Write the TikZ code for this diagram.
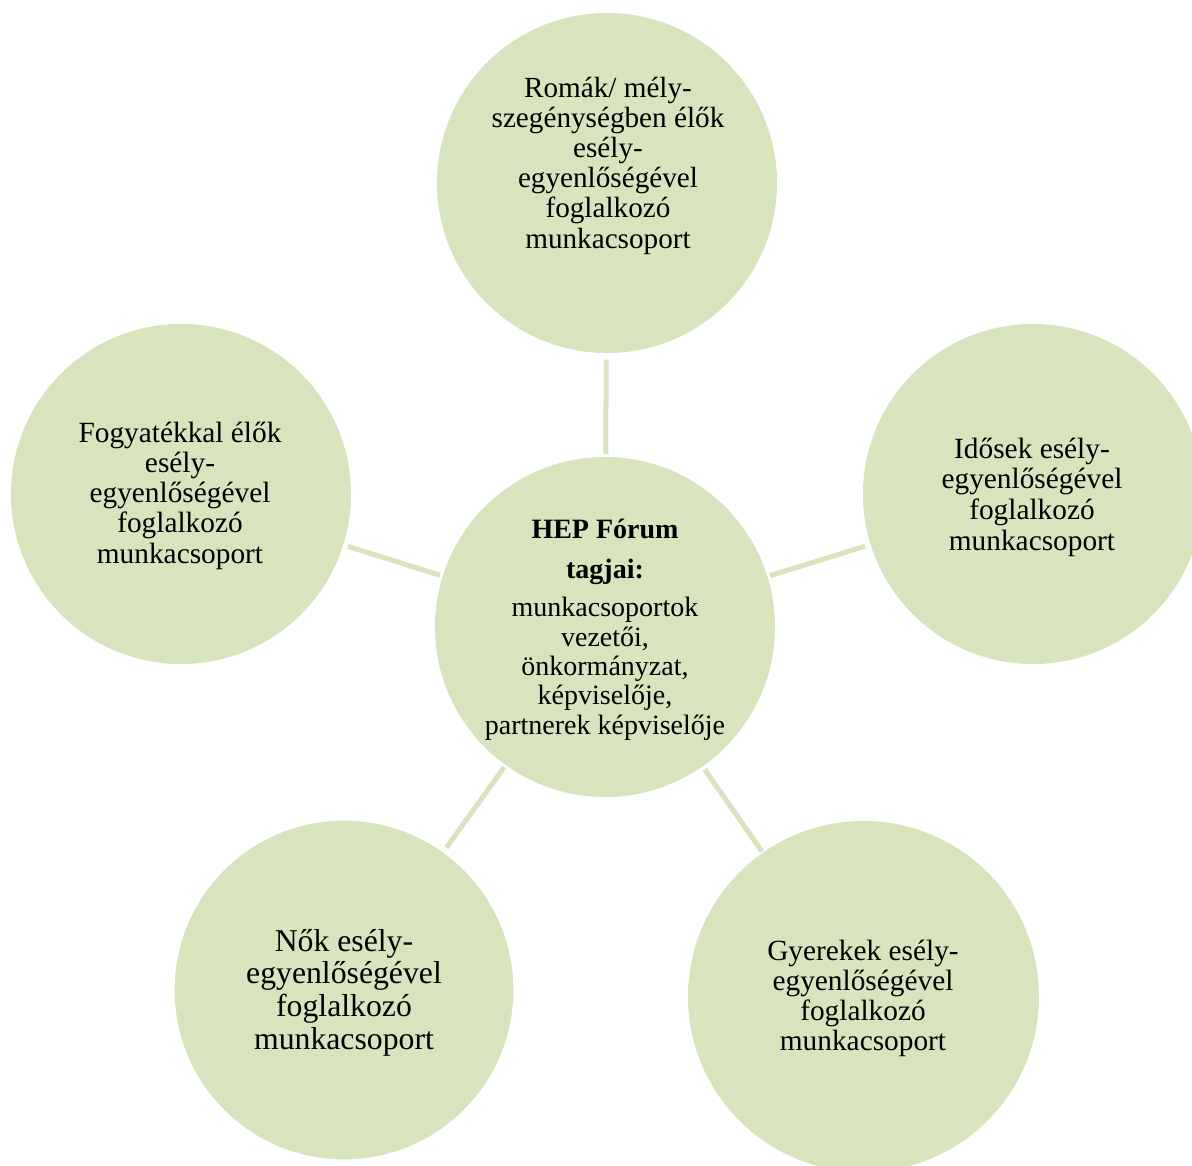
\documentclass[tikz,border=0pt]{standalone}
\usepackage{fontspec}
\setmainfont{Liberation Serif}
\definecolor{bubgreen}{HTML}{D7E4BD}
\newcommand{\bubtxt}[3]{\parbox[t]{260pt}{\fontsize{#1}{#2}\selectfont\centering #3}}
\tikzset{
  bub/.style={circle, fill=bubgreen, draw=none, inner sep=0pt, outer sep=0pt, minimum size=#1},
  link/.style={draw=bubgreen, line width=3.75pt},
  lab/.style={anchor=base, inner sep=0pt, outer sep=0pt, text=black}
}
\begin{document}
\begin{tikzpicture}[x=0.75pt, y=-0.75pt]
\useasboundingbox (0,0) rectangle (1192,1165);
\clip (0,0) rectangle (1192,1165);
\fill[white] (0,0) rectangle (1192,1165);
% circles
\node[bub=255pt] (c)  at (605,627) {};
\node[bub=255pt] (t)  at (607,183) {};
\node[bub=255pt] (l)  at (181,494) {};
\node[bub=255pt] (r)  at (1033,494) {};
\node[bub=254pt] (bl) at (344,990) {};
\node[bub=263.25pt] (br) at (863.5,996.5) {};
% connectors
\draw[link, shorten <=2.25pt, shorten >=5pt]   (c) -- (t);
\draw[link, shorten <=2.25pt, shorten >=3.75pt] (c) -- (l);
\draw[link, shorten <=2.25pt, shorten >=4.4pt] (c) -- (r);
\draw[link, shorten <=2pt, shorten >=4.5pt]    (c) -- (bl);
\draw[link, shorten <=2.75pt, shorten >=1.2pt] (c) -- (br);
% labels
\node[lab] (tt) at (608,97) {\bubtxt{21.9pt}{22.65pt}{Romák/ mély-\\szegénységben élők\\esély-\\egyenlőségével\\foglalkozó\\munkacsoport}};
\node[lab] (ct) at (605,538) {\bubtxt{21pt}{22pt}{\textbf{HEP Fórum}\\[8pt]\textbf{tagjai:}\\[7pt]munkacsoportok\\vezetői,\\önkormányzat,\\képviselője,\\partnerek képviselője}};
\node[lab] (lt) at (180,442) {\bubtxt{22pt}{22.7pt}{Fogyatékkal élők\\esély-\\egyenlőségével\\foglalkozó\\munkacsoport}};
\node[lab] (rt) at (1032,458) {\bubtxt{22pt}{23pt}{Idősek esély-\\egyenlőségével\\foglalkozó\\munkacsoport}};
\node[lab] (brt) at (863,960) {\bubtxt{22pt}{22.5pt}{Gyerekek esély-\\egyenlőségével\\foglalkozó\\munkacsoport}};
\node[lab] (blt) at (344,951) {\bubtxt{23.8pt}{24.5pt}{Nők esély-\\egyenlőségével\\foglalkozó\\munkacsoport}};
\end{tikzpicture}
\end{document}
